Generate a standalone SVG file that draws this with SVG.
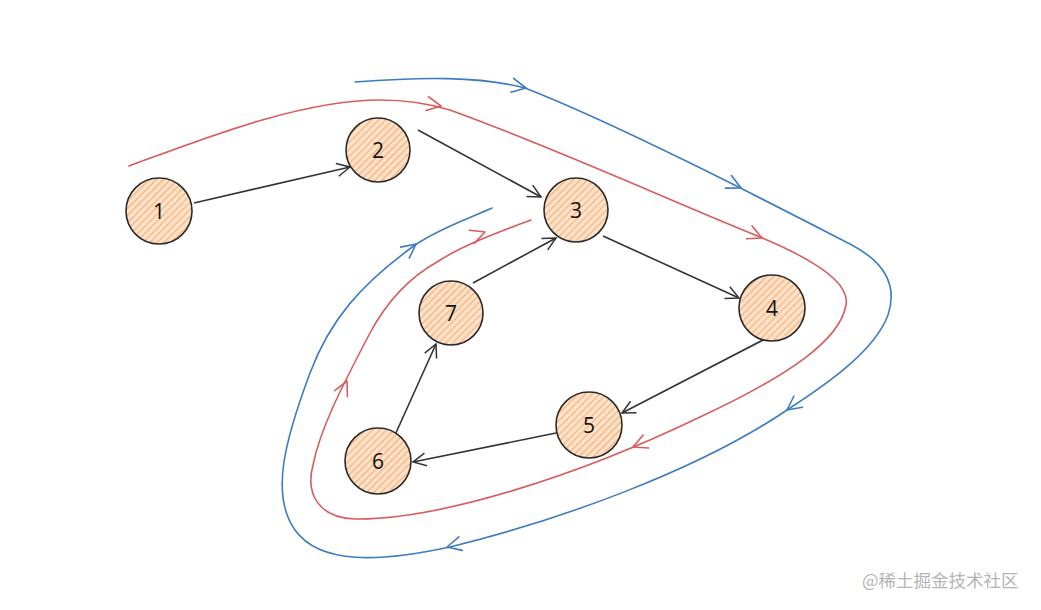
<svg xmlns="http://www.w3.org/2000/svg" xmlns:xlink="http://www.w3.org/1999/xlink" width="1041" height="610" viewBox="0 0 1041 610">
<style>
.node circle{fill:url(#hatch);stroke:#2a2a2a;stroke-width:1.6}
.node text{font-family:"Open Sans","Liberation Sans",sans-serif;font-size:21px;fill:#111;text-anchor:middle;dominant-baseline:central}
.edge{fill:none;stroke:#333;stroke-width:1.6;marker-end:url(#ah)}
.red{fill:none;stroke:#d95c5c;stroke-width:1.6;stroke-linecap:round;stroke-linejoin:round}
.blue{fill:none;stroke:#3d7cc0;stroke-width:1.6;stroke-linecap:round;stroke-linejoin:round}
.wm{font-family:"Noto Sans CJK SC","Liberation Sans",sans-serif;font-size:17.5px;fill:#b5b5b5}
</style>
<defs>
<pattern id="hatch" width="5" height="5" patternUnits="userSpaceOnUse" patternTransform="rotate(-45)">
<rect width="5" height="5" fill="#fde3cb"/>
<line x1="0" y1="2.5" x2="5" y2="2.5" stroke="#f7b27a" stroke-width="1.3"/>
</pattern>
<marker id="ah" viewBox="-14 -8 16 16" refX="0" refY="0" markerWidth="16" markerHeight="16" markerUnits="userSpaceOnUse" orient="auto">
<path d="M -13 -6.5 L 0 0 L -13 6.5" fill="none" stroke="#333" stroke-width="1.5"/>
</marker>
<path id="chev" d="M -14 -7 L 0 0 L -14 7"/>
</defs>
<rect width="1041" height="610" fill="#ffffff"/>
<g id="connectors">
<path class="edge" d="M 194 203 L 350 167"/>
<path class="edge" d="M 418 130 L 541 197"/>
<path class="edge" d="M 603 236 L 739 298"/>
<path class="edge" d="M 765 339 L 622 413"/>
<path class="edge" d="M 556 433 L 413 462"/>
<path class="edge" d="M 395 435 L 436 344"/>
<path class="edge" d="M 473 283 L 556 238"/>
</g>
<g id="red-loop">
<path class="red" d="M 129 166 C 200 140 300 100 380 100 C 410 100 430 104 450 110 C 560 150 680 205 760 237 C 820 262 850 285 846 305 C 840 340 790 375 700 417 C 580 475 440 520 355 519 C 320 518 305 495 313 465 C 320 430 340 390 370 333 C 385 305 405 280 437 262 C 460 247 490 235 531 220"/>
<use href="#chev" class="red" transform="translate(441,106) rotate(10)"/>
<use href="#chev" class="red" transform="translate(762,238) rotate(24)"/>
<use href="#chev" class="red" transform="translate(633,447) rotate(157)"/>
<use href="#chev" class="red" transform="translate(347,381) rotate(-65)"/>
<use href="#chev" class="red" transform="translate(485,232) rotate(-20)"/>
</g>
<g id="blue-loop">
<path class="blue" d="M 355 82 C 420 77 480 76 525 88 C 620 125 780 208 850 244 C 885 262 898 285 888 315 C 875 350 830 382 790 408 C 700 470 560 520 450 547 C 380 562 320 565 295 530 C 270 495 285 440 310 373 C 330 320 360 285 415 245 C 440 228 470 218 492 208"/>
<use href="#chev" class="blue" transform="translate(526,88) rotate(11)"/>
<use href="#chev" class="blue" transform="translate(741,188) rotate(26)"/>
<use href="#chev" class="blue" transform="translate(787,410) rotate(143)"/>
<use href="#chev" class="blue" transform="translate(447,547) rotate(166)"/>
<use href="#chev" class="blue" transform="translate(416,244) rotate(-38)"/>
</g>
<g id="n1" class="node"><circle cx="159" cy="211" r="33"/><text x="159" y="211">1</text></g>
<g id="n2" class="node"><circle cx="378" cy="150" r="32"/><text x="378" y="150">2</text></g>
<g id="n3" class="node"><circle cx="576" cy="210" r="32"/><text x="576" y="210">3</text></g>
<g id="n4" class="node"><circle cx="772" cy="308" r="33"/><text x="772" y="308">4</text></g>
<g id="n5" class="node"><circle cx="589" cy="425" r="33"/><text x="589" y="425">5</text></g>
<g id="n6" class="node"><circle cx="378" cy="461" r="33"/><text x="378" y="461">6</text></g>
<g id="n7" class="node"><circle cx="451" cy="313" r="32"/><text x="451" y="313">7</text></g>
<text class="wm" x="862" y="587">@稀土掘金技术社区</text>
</svg>
